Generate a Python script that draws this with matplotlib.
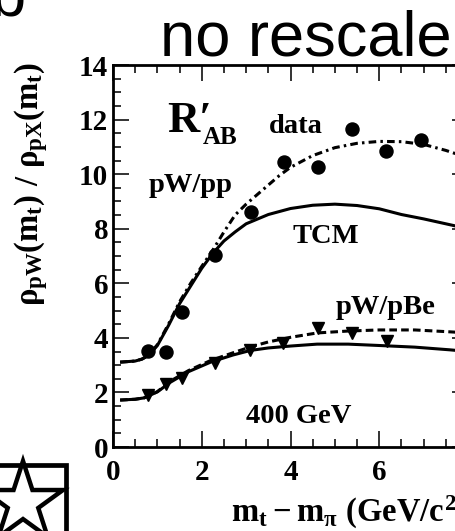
"""
R'_AB ratio panel (pW/pp and pW/pBe, 400 GeV), no rescale
- data points + TCM curves (solid) + fitted curves (dashed / dash-dot)
- result: out.png
"""

import numpy as np
import matplotlib
matplotlib.use("Agg")
import matplotlib.pyplot as plt
from matplotlib.patches import Rectangle, Polygon

# ── data ─────────────────────────────────────────────────────
# pW/pp data (circles)
pp_x = [0.79, 1.19, 1.55, 2.30, 3.11, 3.86, 4.62, 5.39, 6.16, 6.94]
pp_y = [3.52, 3.48, 4.95, 7.04, 8.61, 10.44, 10.26, 11.65, 10.85, 11.25]

# pW/pBe data (down triangles)
pbe_x = [0.79, 1.19, 1.55, 2.30, 3.09, 3.83, 4.62, 5.39, 6.17]
pbe_y = [1.90, 2.31, 2.53, 3.08, 3.55, 3.81, 4.36, 4.18, 3.88]

# pW/pp TCM curve (solid)
tcm_pp_x = [0.16, 0.5, 0.65, 0.8, 1.0, 1.25, 1.5, 1.75, 2.0, 2.25, 2.5, 2.75,
            3.0, 3.5, 4.0, 4.5, 5.0, 5.5, 6.0, 6.5, 7.0, 7.5, 8.0]
tcm_pp_y = [3.11, 3.15, 3.22, 3.35, 3.72, 4.45, 5.25, 5.9, 6.55, 7.1, 7.55, 7.88,
            8.18, 8.52, 8.74, 8.86, 8.9, 8.85, 8.73, 8.52, 8.36, 8.18, 8.0]

# pW/pp data curve (dash-dot)
fit_pp_x = [0.16, 0.5, 0.65, 0.8, 1.0, 1.25, 1.5, 1.75, 2.0, 2.25, 2.5, 2.75,
            3.0, 3.25, 3.5, 3.75, 4.0, 4.5, 5.0, 5.5, 6.0, 6.5, 7.0, 7.5, 8.0]
fit_pp_y = [3.11, 3.15, 3.22, 3.36, 3.75, 4.5, 5.32, 6.0, 6.62, 7.22, 7.88, 8.5,
            8.9, 9.25, 9.6, 9.95, 10.25, 10.68, 10.97, 11.13, 11.2, 11.19, 11.09, 10.87, 10.6]

# pW/pBe TCM curve (solid)
tcm_pbe_x = [0.16, 0.5, 0.7, 1.0, 1.3, 1.7, 2.2, 2.7, 3.1, 3.5, 4.0, 4.6,
             5.3, 6.0, 6.8, 7.6, 8.0]
tcm_pbe_y = [1.72, 1.75, 1.8, 2.02, 2.38, 2.76, 3.11, 3.37, 3.54, 3.63, 3.7, 3.77,
             3.77, 3.72, 3.66, 3.56, 3.5]

# pW/pBe data curve (dashed)
fit_pbe_x = [0.16, 0.5, 0.7, 1.0, 1.3, 1.7, 2.2, 2.7, 3.1, 3.5, 4.0, 4.6,
             5.3, 6.0, 6.8, 7.6, 8.0]
fit_pbe_y = [1.72, 1.75, 1.8, 2.03, 2.42, 2.8, 3.17, 3.45, 3.67, 3.85, 4.02, 4.18,
             4.25, 4.29, 4.29, 4.22, 4.18]

# ── style ────────────────────────────────────────────────────
plt.rcParams["font.family"] = ["Liberation Serif", "DejaVu Serif"]
plt.rcParams["font.weight"] = "bold"
plt.rcParams["mathtext.fontset"] = "custom"
plt.rcParams["mathtext.rm"] = "Liberation Serif:bold"
plt.rcParams["mathtext.it"] = "Liberation Serif:bold"
plt.rcParams["mathtext.bf"] = "Liberation Serif:bold"
plt.rcParams["lines.scale_dashes"] = False

W, H = 456, 531
fig = plt.figure(figsize=(W / 100, H / 100), dpi=100)

# axes runs past the right edge of the picture (cropped panel)
ax_l, ax_r, ax_t, ax_b = 113, 468, 65, 447
ax = fig.add_axes([ax_l / W, 1 - ax_b / H, (ax_r - ax_l) / W, (ax_b - ax_t) / H])

lw = 2.2
ax.plot(tcm_pp_x, tcm_pp_y, color="black", lw=lw, solid_capstyle="butt")
ax.plot(fit_pp_x, fit_pp_y, color="black", lw=lw, linestyle=(0, (5.5, 3, 1.8, 3)),
        dash_capstyle="butt")
ax.plot(tcm_pbe_x, tcm_pbe_y, color="black", lw=lw, solid_capstyle="butt")
ax.plot(fit_pbe_x, fit_pbe_y, color="black", lw=lw, linestyle=(0, (5.5, 3)),
        dash_capstyle="butt")

ax.plot(pp_x, pp_y, "o", color="black", ms=9.4, zorder=5)
ax.plot(pbe_x, pbe_y, "v", color="black", ms=9.2, zorder=5)

ax.set_xlim(0, 8)
ax.set_ylim(0, 14)
ax.set_xticks([0, 2, 4, 6, 8])
ax.set_yticks(np.arange(0, 15, 2))
ax.set_xticks(np.arange(0, 8.01, 0.5), minor=True)
ax.set_yticks(np.arange(0, 14.01, 0.5), minor=True)
for s in ax.spines.values():
    s.set_linewidth(2.0)
ax.tick_params(which="both", direction="in", top=True, right=True, width=1.4, color="#333333")
ax.tick_params(which="major", length=11.5, labelsize=21)
ax.tick_params(which="minor", length=5.8)
ax.tick_params(axis="x", which="major", pad=8.5)
ax.tick_params(axis="y", which="major", pad=3.5)

# axis titles (ROOT style: aligned to the axis ends)
ax.text(1.0, -0.196, r"$m_t - m_\pi\ (GeV/c^2)$", transform=ax.transAxes,
        ha="right", va="baseline", fontsize=23.5)
ax.text(-0.232, 1.008, r"$\rho_{pW}(m_t)\ /\ \rho_{pX}(m_t)$", transform=ax.transAxes,
        rotation=90, ha="center", va="top", fontsize=23.5)

# labels inside the frame
ax.text(0.152, 0.825, "R\u2032", transform=ax.transAxes, fontsize=32, va="baseline")
ax.text(0.252, 0.793, "AB", transform=ax.transAxes, fontsize=18, va="baseline")
ax.text(0.439, 0.822, "data", transform=ax.transAxes, fontsize=20.5, va="baseline")
ax.text(0.101, 0.668, "pW/pp", transform=ax.transAxes, fontsize=20.5, va="baseline")
ax.text(0.507, 0.534, "TCM", transform=ax.transAxes, fontsize=20.5, va="baseline")
ax.text(0.628, 0.348, "pW/pBe", transform=ax.transAxes, fontsize=20.5, va="baseline")
ax.text(0.375, 0.063, "400 GeV", transform=ax.transAxes, fontsize=20.5, va="baseline")

# panel header
fig.text(160 / W, 1 - 55 / H, "no rescale", family="Liberation Sans", weight="normal",
         fontsize=45.5, va="baseline", ha="left")
fig.text(-9 / W, 1 - 16 / H, "b", family="Liberation Sans", weight="normal",
         fontsize=45.5, va="baseline", ha="left")

# star-in-box symbol (bottom left corner)
box = Rectangle((-0.3, -0.3), 0.3 + 66 / W, 0.3 + (H - 465) / H, transform=fig.transFigure,
                fill=False, edgecolor="black", lw=3.4)
fig.add_artist(box)
cx, cy, r_out = 23, 503, 42
ang = np.deg2rad(90 + 36 * np.arange(10))
rad = np.where(np.arange(10) % 2 == 0, r_out, r_out * 0.382)
star_xy = np.column_stack([(cx + rad * np.cos(ang)) / W, 1 - (cy - rad * np.sin(ang)) / H])
star = Polygon(star_xy, closed=True, transform=fig.transFigure, facecolor="white",
               edgecolor="black", lw=3.2, joinstyle="miter")
fig.add_artist(star)

fig.savefig("out.png", dpi=100)
